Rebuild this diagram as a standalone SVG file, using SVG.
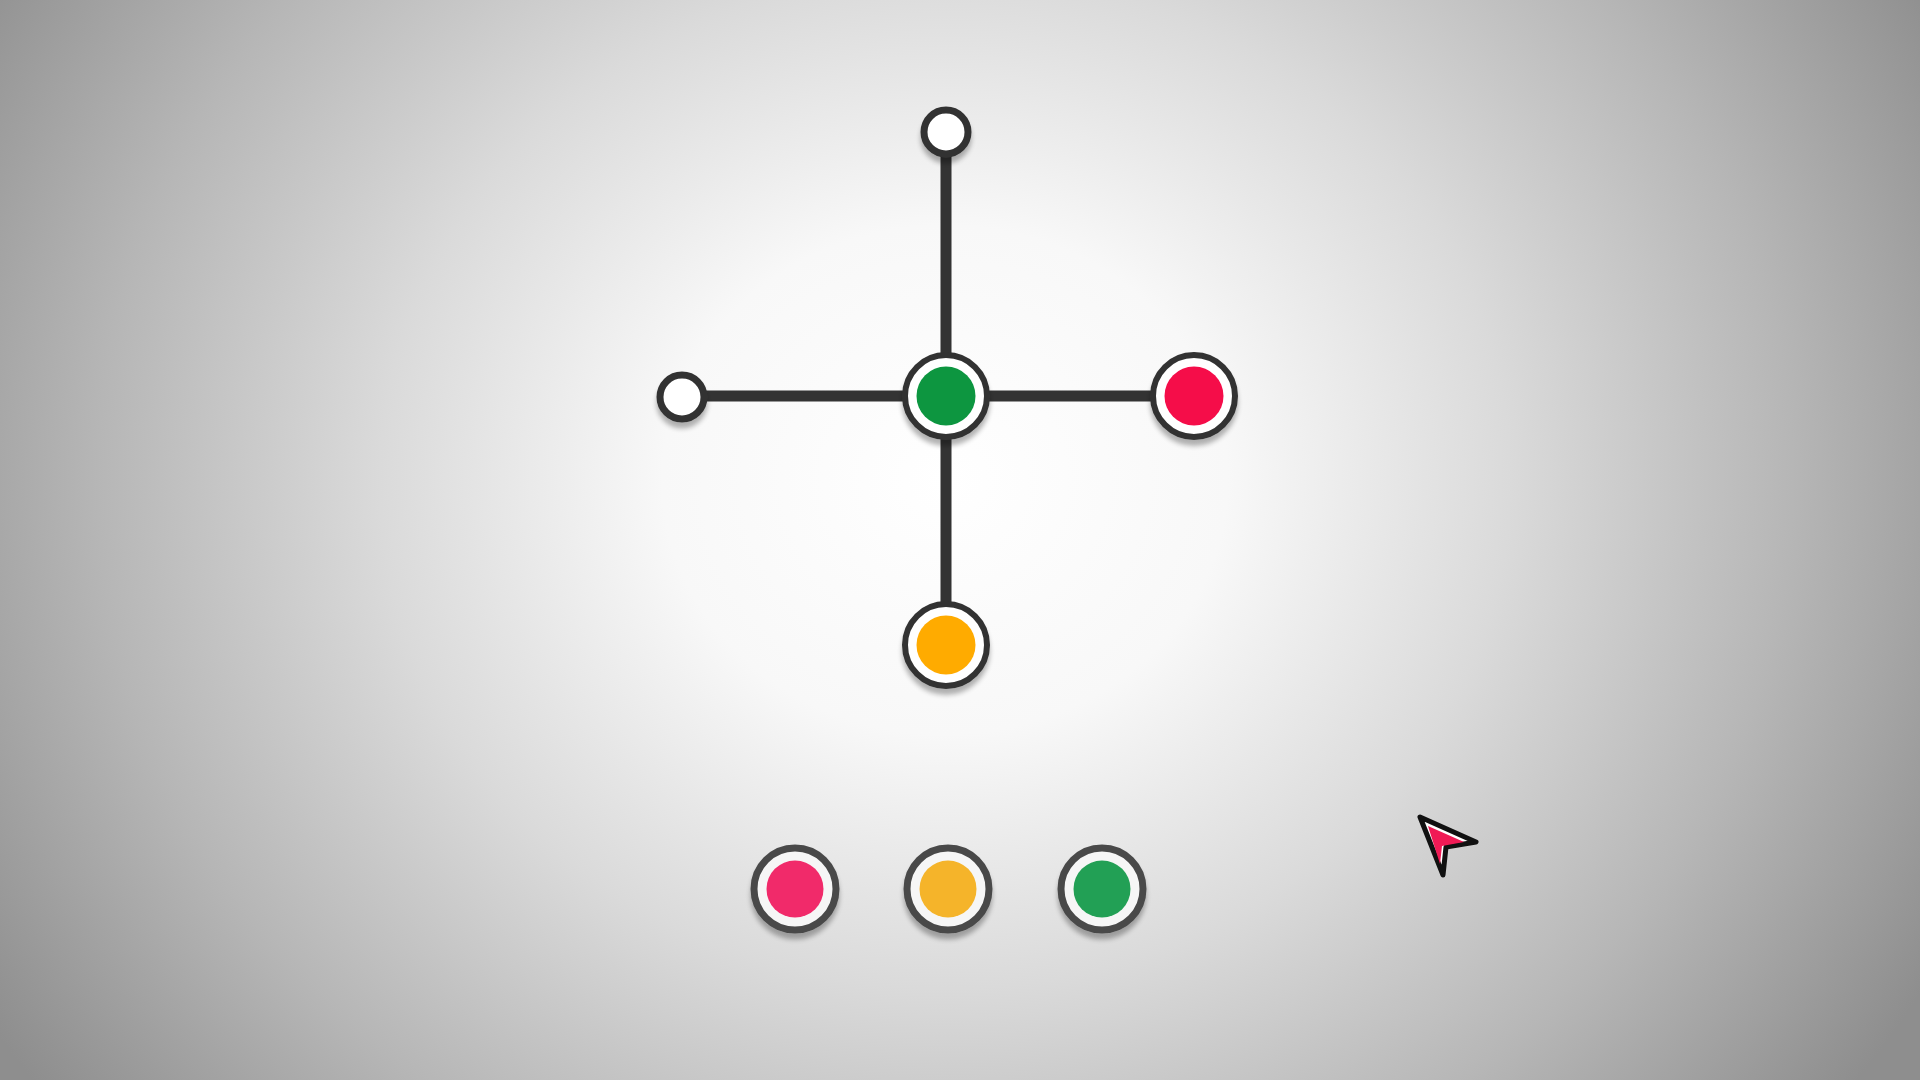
<svg xmlns="http://www.w3.org/2000/svg" width="1920" height="1080" viewBox="0 0 1920 1080">
<defs>
<radialGradient id="bg" cx="945" cy="480" r="1130" gradientUnits="userSpaceOnUse" gradientTransform="translate(945 480) scale(1 0.9) translate(-945 -480)">
<stop offset="0" stop-color="#ffffff"/>
<stop offset="0.25" stop-color="#f8f8f8"/>
<stop offset="0.5" stop-color="#dadada"/>
<stop offset="0.75" stop-color="#b6b6b6"/>
<stop offset="1" stop-color="#8e8e8e"/>
</radialGradient>
<filter id="sh" x="-30%" y="-30%" width="160%" height="170%">
<feGaussianBlur in="SourceAlpha" stdDeviation="2.5"/>
<feOffset dx="0" dy="6" result="b"/>
<feComponentTransfer><feFuncA type="linear" slope="0.3"/></feComponentTransfer>
<feMerge><feMergeNode/><feMergeNode in="SourceGraphic"/></feMerge>
</filter>
</defs>
<style>
.edge{stroke:#333;stroke-width:11;fill:none}
.ring{fill:#fff;stroke:#333;stroke-width:6}
.small{fill:#fff;stroke:#333;stroke-width:7}
.pal{fill:#f6f6f6;stroke:#4a4a4a;stroke-width:7}
</style>
<rect width="1920" height="1080" fill="url(#bg)"/>
<g id="connectors">
<line class="edge" x1="946" y1="132" x2="946" y2="645"/>
<line class="edge" x1="682" y1="396" x2="1194" y2="396"/>
</g>
<g id="node-top" filter="url(#sh)"><circle class="small" cx="946" cy="132" r="22"/></g>
<g id="node-left" filter="url(#sh)"><circle class="small" cx="682" cy="397" r="22"/></g>
<g id="node-center" filter="url(#sh)"><circle class="ring" cx="946" cy="396" r="41"/><circle cx="946" cy="396" r="29.5" fill="#0a963f"/></g>
<g id="node-right" filter="url(#sh)"><circle class="ring" cx="1194" cy="396" r="41"/><circle cx="1194" cy="396" r="29.5" fill="#f5094a"/></g>
<g id="node-bottom" filter="url(#sh)"><circle class="ring" cx="946" cy="645" r="41"/><circle cx="946" cy="645" r="29.5" fill="#ffab00"/></g>
<g id="palette-pink" filter="url(#sh)"><circle class="pal" cx="795" cy="889" r="41"/><circle cx="795" cy="889" r="28.5" fill="#f12a6a"/></g>
<g id="palette-orange" filter="url(#sh)"><circle class="pal" cx="948" cy="889" r="41"/><circle cx="948" cy="889" r="28.5" fill="#f5b42a"/></g>
<g id="palette-green" filter="url(#sh)"><circle class="pal" cx="1102" cy="889" r="41"/><circle cx="1102" cy="889" r="28.5" fill="#24a055"/></g>
<g id="cursor">
<path d="M1420 817 L1476 842 L1446 847 L1443 875 Z" fill="#fff" stroke="#111" stroke-width="5" stroke-linejoin="round"/>
<path d="M1428 826 L1464 842 L1442 846 L1440 864 Z" fill="#f01a55"/>
</g>
</svg>
